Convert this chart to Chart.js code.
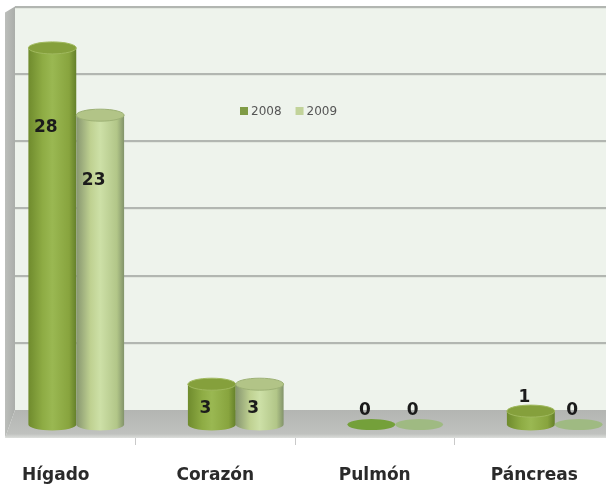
<!DOCTYPE html>
<html>
<head>
<meta charset="utf-8">
<script src="https://cdn.jsdelivr.net/npm/chart.js@4.4.1/dist/chart.umd.min.js"></script>
<style>
html, body { margin: 0; padding: 0; background: #fff; overflow: hidden; }
#wrap { position: relative; width: 606px; height: 489px; overflow: hidden; }
#box { position: absolute; left: -24px; top: 0; width: 638px; height: 489px; }
</style>
</head>
<body>
<div id="wrap"><div id="box"><canvas id="organos"></canvas></div></div>
<script>
const categorias = ['Hígado', 'Corazón', 'Pulmón', 'Páncreas'];
const anios = ['2008', '2009'];
const valores2008 = [28, 3, 0, 1];
const valores2009 = [23, 3, 0, 0];
const marcasY = [0, 5, 10, 15, 20, 25, 30];

// tonos de cada serie: cuerpo (degradado), tapa, borde, disco plano y leyenda
const tonos = [
	{ body: ['#6f8b2d', '#8eac44', '#9ab852', '#88a43e', '#64802a'], cap: '#85a03c', rim: '#a0b95e', flat: '#74a03a', legend: '#7f9b45' },
	{ body: ['#879670', '#bfd191', '#cde0a7', '#b2c688', '#82936a'], cap: '#b2c487', rim: '#9db175', flat: '#9fba82', legend: '#c2d39a' }
];
const paradas = [0, 0.3, 0.5, 0.85, 1];

// profundidad del efecto 3D
const FONDO_DX = 20.5;   // desplazamiento horizontal de los cilindros
const PARED_DY = 14.5;   // la pared del fondo queda por encima de la base de los cilindros
const PARED_IZQ = 39;    // borde trasero de la pared izquierda
const PARED_IZQ_FRENTE = 29;
const RY = 6;

function cilindro(ctx, cx, top, base, w, tono) {
	const rx = w / 2, l = cx - rx, r = cx + rx;
	if (base - top < 0.5) {
		ctx.beginPath();
		ctx.ellipse(cx, base, rx, RY - 0.5, 0, 0, Math.PI * 2);
		ctx.fillStyle = tono.flat;
		ctx.fill();
		return;
	}
	const g = ctx.createLinearGradient(l, 0, r, 0);
	tono.body.forEach((c, i) => g.addColorStop(paradas[i], c));
	ctx.beginPath();
	ctx.moveTo(l, top);
	ctx.lineTo(l, base);
	ctx.ellipse(cx, base, rx, RY, 0, Math.PI, 0, true);
	ctx.lineTo(r, top);
	ctx.closePath();
	ctx.fillStyle = g;
	ctx.fill();
	ctx.beginPath();
	ctx.ellipse(cx, top, rx, RY, 0, 0, Math.PI * 2);
	ctx.fillStyle = tono.cap;
	ctx.fill();
	ctx.strokeStyle = tono.rim;
	ctx.lineWidth = 1;
	ctx.stroke();
}

function altoEtiqueta(v, top, base) {
	if (v <= 1) return top - 14;
	if (v < 5) return (top + base) / 2 + 4;
	return top + 0.2 * (base - top) + 4;
}

const escena3d = {
	id: 'escena3d',
	beforeDraw(chart) {
		const { ctx, chartArea: a, scales: { y } } = chart;
		const yTop = y.getPixelForValue(marcasY[marcasY.length - 1]) - PARED_DY;
		const yCero = y.getPixelForValue(0) - PARED_DY;
		const yFrente = a.bottom;
		const der = chart.width;
		ctx.save();
		// pared del fondo
		ctx.fillStyle = '#eef3ec';
		ctx.fillRect(PARED_IZQ, yTop, der - PARED_IZQ, yCero - yTop);
		// pared izquierda
		const gl = ctx.createLinearGradient(PARED_IZQ_FRENTE, 0, PARED_IZQ, 0);
		gl.addColorStop(0, '#bcbebb');
		gl.addColorStop(1, '#aaada9');
		ctx.beginPath();
		ctx.moveTo(PARED_IZQ_FRENTE, yTop + 6);
		ctx.lineTo(PARED_IZQ, yTop);
		ctx.lineTo(PARED_IZQ, yCero);
		ctx.lineTo(PARED_IZQ_FRENTE, yFrente);
		ctx.closePath();
		ctx.fillStyle = gl;
		ctx.fill();
		// suelo
		const gs = ctx.createLinearGradient(0, yCero, 0, yFrente);
		gs.addColorStop(0, '#b3b5b2');
		gs.addColorStop(0.85, '#bfc1be');
		gs.addColorStop(1, '#dcdedb');
		ctx.beginPath();
		ctx.moveTo(PARED_IZQ, yCero);
		ctx.lineTo(der, yCero);
		ctx.lineTo(der, yFrente);
		ctx.lineTo(PARED_IZQ_FRENTE, yFrente);
		ctx.closePath();
		ctx.fillStyle = gs;
		ctx.fill();
		// lineas de division sobre la pared
		marcasY.forEach(v => {
			if (v === 0) return;
			const py = Math.round(y.getPixelForValue(v) - PARED_DY);
			ctx.fillStyle = '#b2b6b1';
			ctx.fillRect(PARED_IZQ, py - 1, der - PARED_IZQ, 2);
			ctx.fillStyle = '#e2e7df';
			ctx.fillRect(PARED_IZQ, py + 1, der - PARED_IZQ, 1);
		});
		// leyenda
		ctx.font = '12px "DejaVu Sans"';
		ctx.textBaseline = 'middle';
		let lx = 264;
		const ly = 111;
		anios.forEach((nombre, i) => {
			ctx.fillStyle = tonos[i].legend;
			ctx.fillRect(lx, ly - 4, 8, 8);
			ctx.fillStyle = '#555';
			ctx.fillText(nombre, lx + 11, ly + 0.5);
			lx += 11 + ctx.measureText(nombre).width + 14;
		});
		ctx.restore();
	},
	afterDatasetsDraw(chart) {
		const { ctx } = chart;
		ctx.save();
		chart.data.datasets.forEach((ds, di) => {
			const meta = chart.getDatasetMeta(di);
			meta.data.forEach(bar => {
				const p = bar.getProps(['x', 'y', 'base', 'width'], true);
				cilindro(ctx, p.x + FONDO_DX, p.y, p.base, p.width, tonos[di]);
			});
		});
		ctx.font = 'bold 17px "DejaVu Sans"';
		ctx.fillStyle = '#1b1b1b';
		ctx.textAlign = 'center';
		ctx.textBaseline = 'middle';
		chart.data.datasets.forEach((ds, di) => {
			const meta = chart.getDatasetMeta(di);
			meta.data.forEach((bar, i) => {
				const p = bar.getProps(['x', 'y', 'base'], true);
				const v = ds.data[i];
				ctx.fillText(String(v), p.x + 14, altoEtiqueta(v, p.y, p.base));
			});
		});
		ctx.restore();
	}
};

const ctx = document.querySelector('#organos').getContext('2d');
const grafico = new Chart(ctx, {
	type: 'bar',
	data: {
		labels: categorias,
		datasets: [
			{ label: anios[0], data: valores2008, backgroundColor: 'rgba(0,0,0,0)', borderWidth: 0 },
			{ label: anios[1], data: valores2009, backgroundColor: 'rgba(0,0,0,0)', borderWidth: 0 }
		]
	},
	options: {
		responsive: true,
		maintainAspectRatio: false,
		animation: false,
		categoryPercentage: 0.6,
		barPercentage: 1,
		layout: { padding: { top: 21, bottom: 0, left: 0, right: 0 } },
		scales: {
			x: {
				afterFit: s => { s.height = 51; },
				border: { display: false },
				grid: { drawOnChartArea: false, drawTicks: true, tickLength: 7, color: '#c9c9c9', offset: true },
				ticks: {
					padding: 20,
					maxRotation: 0,
					autoSkip: false,
					color: '#2a2a2a',
					font: { family: 'DejaVu Sans', size: 17, weight: 'bold' }
				}
			},
			y: {
				display: false,
				min: -1,
				max: marcasY[marcasY.length - 1]
			}
		},
		plugins: {
			legend: { display: false },
			tooltip: { enabled: false }
		}
	},
	plugins: [escena3d]
});
</script>
</body>
</html>
